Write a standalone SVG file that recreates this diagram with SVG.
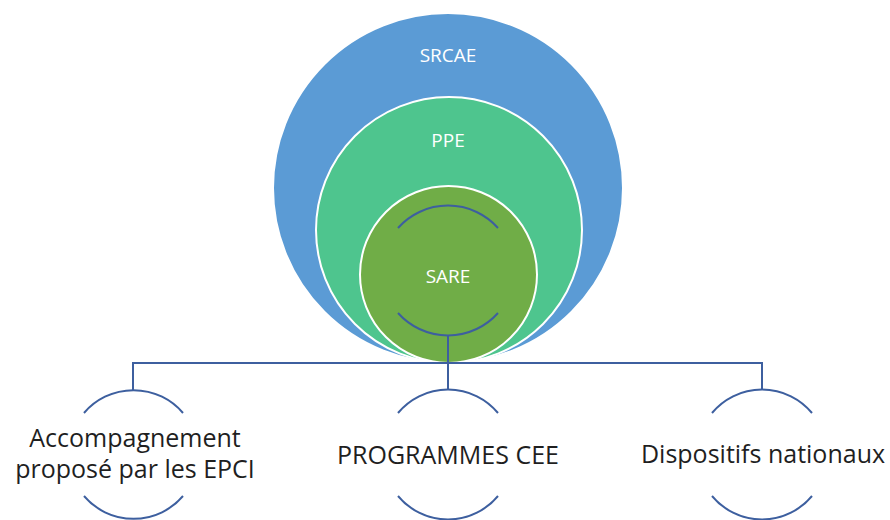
<svg xmlns="http://www.w3.org/2000/svg" width="890" height="520" viewBox="0 0 890 520">
<style>
.lbl{font-family:"Open Sans","Liberation Sans",sans-serif;font-size:19px;fill:#fff;text-anchor:middle}
.txt{font-family:"Open Sans","Liberation Sans",sans-serif;font-size:25px;fill:#1f1f1f;text-anchor:middle}
.ring{stroke:#fff;stroke-width:2}
.con{fill:none;stroke:#3d5f9f;stroke-width:2}
.arc{fill:none;stroke:#3d5f9f;stroke-width:2}
</style>
<rect width="890" height="520" fill="#fff"/>
<g id="srcae">
<circle cx="448" cy="188" r="175" fill="#5b9bd5" class="ring"/>
<text class="lbl" x="448" y="62">SRCAE</text>
</g>
<g id="ppe">
<circle cx="449" cy="230" r="133" fill="#4ec58e" class="ring"/>
<text class="lbl" x="448" y="147">PPE</text>
</g>
<g id="sare">
<circle cx="448.5" cy="274.5" r="88.5" fill="#70ad47" class="ring"/>
<path class="arc" d="M398 228 A67 67 0 0 1 498 228"/>
<path class="arc" d="M398 313 A67 67 0 0 0 498 313"/>
<text class="lbl" x="448" y="283">SARE</text>
</g>
<g id="connectors">
<path class="con" d="M133 390 V363 H762 V390"/>
<path class="con" d="M448 335 V390"/>
</g>
<g id="epci">
<path class="arc" d="M84 413 A65 65 0 0 1 183 413"/>
<path class="arc" d="M84 496 A65 65 0 0 0 183 496"/>
<text class="txt" x="135" y="447">Accompagnement</text>
<text class="txt" x="135" y="478">proposé par les EPCI</text>
</g>
<g id="cee">
<path class="arc" d="M398 413 A65 65 0 0 1 498 413"/>
<path class="arc" d="M398 496 A65 65 0 0 0 498 496"/>
<text class="txt" x="448" y="464">PROGRAMMES CEE</text>
</g>
<g id="nationaux">
<path class="arc" d="M712 413 A65 65 0 0 1 812 413"/>
<path class="arc" d="M712 496 A65 65 0 0 0 812 496"/>
<text class="txt" x="763" y="463">Dispositifs nationaux</text>
</g>
</svg>
